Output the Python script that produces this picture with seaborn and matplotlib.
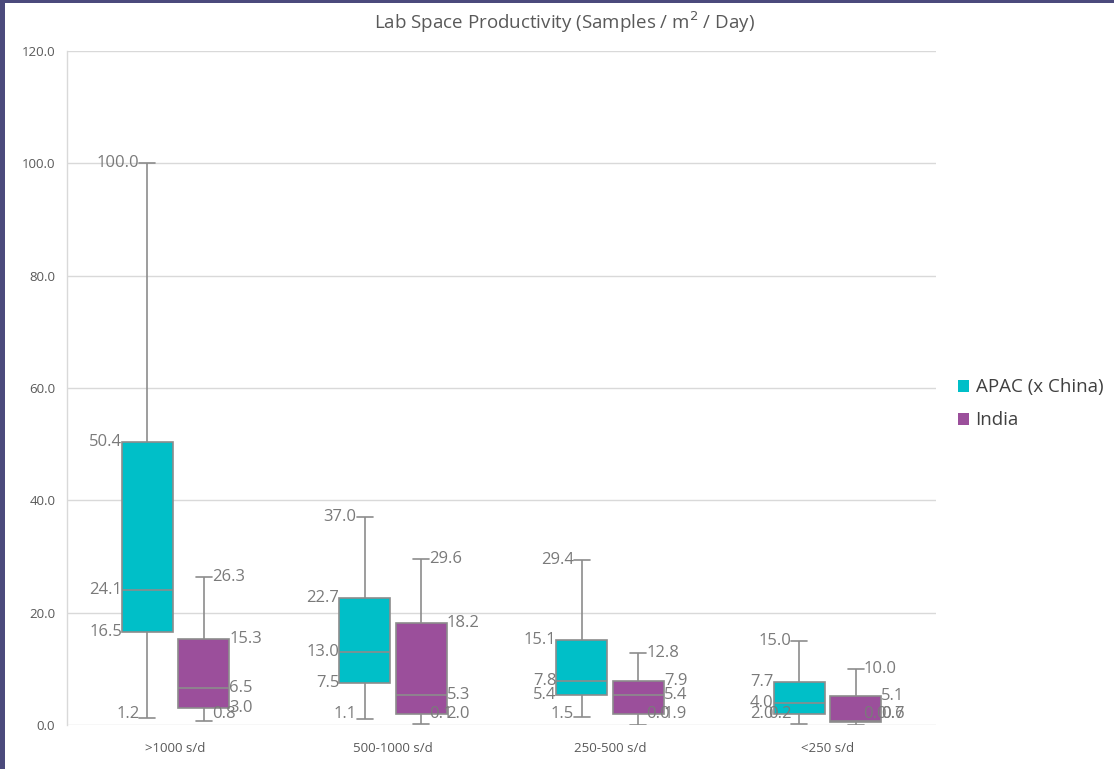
import numpy as np
import pandas as pd
import matplotlib
matplotlib.use("Agg")
import matplotlib.pyplot as plt
from matplotlib.patches import Patch, Rectangle
import seaborn as sns

categories = [">1000 s/d", "500-1000 s/d", "250-500 s/d", "<250 s/d"]
regions = ["APAC (x China)", "India"]

apac_min = [1.2, 1.1, 1.5, 0.2]
apac_q1 = [16.5, 7.5, 5.4, 2.0]
apac_med = [24.1, 13.0, 7.8, 4.0]
apac_q3 = [50.4, 22.7, 15.1, 7.7]
apac_max = [100.0, 37.0, 29.4, 15.0]

india_min = [0.8, 0.1, 0.0, 0.0]
india_q1 = [3.0, 2.0, 1.9, 0.6]
india_med = [6.5, 5.3, 5.4, 0.7]
india_q3 = [15.3, 18.2, 7.9, 5.1]
india_max = [26.3, 29.6, 12.8, 10.0]

yticks = [0, 20, 40, 60, 80, 100, 120]

stats = {
    "APAC (x China)": [apac_min, apac_q1, apac_med, apac_q3, apac_max],
    "India": [india_min, india_q1, india_med, india_q3, india_max],
}

rows = []
for reg in regions:
    for i, cat in enumerate(categories):
        for s in stats[reg]:
            rows.append({"category": cat, "region": reg, "value": s[i]})
df = pd.DataFrame(rows)

sns.set_theme(style="white")
plt.rcParams["font.family"] = ["Open Sans", "DejaVu Sans"]

W, H = 1114, 769
fig = plt.figure(figsize=(W / 100, H / 100), dpi=100)
fig.patch.set_facecolor("white")
ax = fig.add_axes([67 / W, 1 - 725 / H, (936 - 67) / W, (725 - 51) / H])

teal = "#00BFC8"
purple = "#9B4F9B"
gray_line = "#8c8c8c"
text_gray = "#7a7a7a"

width = 0.52
gap = 0.1
sns.boxplot(data=df, x="category", y="value", hue="region", order=categories,
            hue_order=regions, palette=[teal, purple], whis=(0, 100),
            width=width, gap=gap, linecolor=gray_line, linewidth=1.2,
            saturation=1, showfliers=False, legend=False, ax=ax)

off = width / 4
box_hw = (width / 2) * (1 - gap) / 2
cap_hw = 8 / 217.25

# shorten whisker caps (horizontal lines narrower than the box)
for ln in ax.lines:
    xd = np.asarray(ln.get_xdata(), dtype=float)
    yd = np.asarray(ln.get_ydata(), dtype=float)
    if len(xd) == 2 and yd[0] == yd[1]:
        span = abs(xd[1] - xd[0])
        if span < 2 * box_hw * 0.95:
            c = (xd[0] + xd[1]) / 2
            ln.set_xdata([c - cap_hw, c + cap_hw])

ax.set_ylim(0, 120)
ax.set_xlim(-0.5, 3.5)
ax.set_yticks(yticks)
ax.set_yticklabels([f"{v:.1f}" for v in yticks], fontsize=9.5, color="#595959")
ax.tick_params(axis="y", length=0, pad=8.5)
ax.tick_params(axis="x", length=0, pad=12, labelsize=9.5, labelcolor="#595959")
ax.set_xlabel("")
ax.set_ylabel("")
ax.yaxis.grid(True, color="#d9d9d9", linewidth=1)
ax.set_axisbelow(True)
for side in ["top", "right", "bottom"]:
    ax.spines[side].set_visible(False)
ax.spines["left"].set_color("#d9d9d9")
ax.spines["left"].set_linewidth(1)

fs = 12
for i in range(len(categories)):
    # APAC labels on the left
    cx = i - off
    ax.text(cx - cap_hw, apac_max[i], f"{apac_max[i]:.1f}", ha="right", va="center", fontsize=fs, color=text_gray)
    for v in (apac_q3[i], apac_med[i], apac_q1[i]):
        ax.text(cx - box_hw, v, f"{v:.1f}", ha="right", va="center", fontsize=fs, color=text_gray)
    ax.text(cx - cap_hw, max(apac_min[i], 2.0), f"{apac_min[i]:.1f}", ha="right", va="center", fontsize=fs, color=text_gray)
    # India labels on the right
    cx = i + off
    ax.text(cx + cap_hw, india_max[i], f"{india_max[i]:.1f}", ha="left", va="center", fontsize=fs, color=text_gray)
    for v in (india_q3[i], india_med[i], india_q1[i]):
        ax.text(cx + box_hw, max(v, 2.0), f"{v:.1f}", ha="left", va="center", fontsize=fs, color=text_gray)
    ax.text(cx + cap_hw, max(india_min[i], 2.0), f"{india_min[i]:.1f}", ha="left", va="center", fontsize=fs, color=text_gray)

fig.text(564 / W, 1 - 22 / H, "Lab Space Productivity (Samples / m$^2$ / Day)",
         ha="center", va="center", fontsize=13.5, color="#595959")

handles = [Patch(facecolor=teal, edgecolor="none"), Patch(facecolor=purple, edgecolor="none")]
fig.legend(handles, regions, loc="center left", bbox_to_anchor=(954 / W, 1 - 404 / H),
           frameon=False, fontsize=13.5, handlelength=0.6, handleheight=0.6,
           handletextpad=0.35, labelspacing=0.8, labelcolor="#404040",
           borderpad=0.2, borderaxespad=0)

fig.patches.append(Rectangle((0, 1 - 3 / H), 1, 3 / H, transform=fig.transFigure,
                             facecolor="#4b4a7c", edgecolor="none", zorder=10))
fig.patches.append(Rectangle((0, 0), 5 / W, 1, transform=fig.transFigure,
                             facecolor="#4b4a7c", edgecolor="none", zorder=10))

fig.savefig("out.png", dpi=100, facecolor="white")
